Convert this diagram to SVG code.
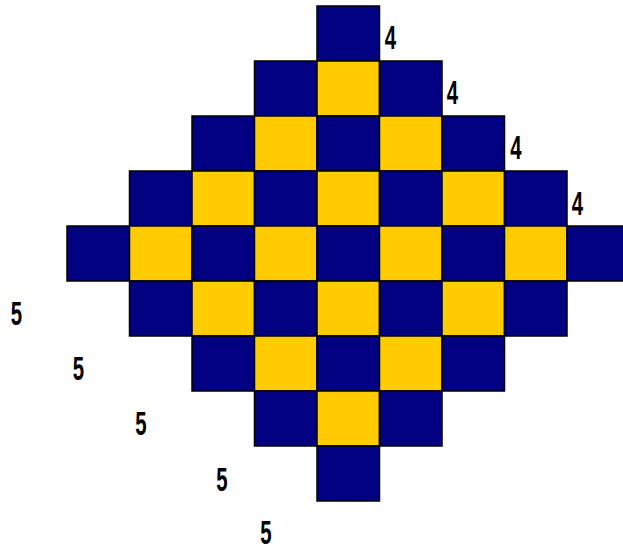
<svg xmlns="http://www.w3.org/2000/svg" width="623" height="546" viewBox="0 0 623 546">
<style>
.n{fill:#000080;stroke:#000;stroke-width:1.5}
.y{fill:#FFCC00;stroke:#000;stroke-width:1.5}
.t{font-family:"Liberation Sans",Arial,sans-serif;font-weight:bold;font-size:34px;fill:#000;text-anchor:middle}
</style>
<rect width="623" height="546" fill="#fff"/>
<g id="grid">
<rect class="n" x="317" y="6" width="62.5" height="55"/>
<rect class="n" x="254.5" y="61" width="62.5" height="55"/>
<rect class="y" x="317" y="61" width="62.5" height="55"/>
<rect class="n" x="379.5" y="61" width="62.5" height="55"/>
<rect class="n" x="192" y="116" width="62.5" height="55"/>
<rect class="y" x="254.5" y="116" width="62.5" height="55"/>
<rect class="n" x="317" y="116" width="62.5" height="55"/>
<rect class="y" x="379.5" y="116" width="62.5" height="55"/>
<rect class="n" x="442" y="116" width="62.5" height="55"/>
<rect class="n" x="129.5" y="171" width="62.5" height="55"/>
<rect class="y" x="192" y="171" width="62.5" height="55"/>
<rect class="n" x="254.5" y="171" width="62.5" height="55"/>
<rect class="y" x="317" y="171" width="62.5" height="55"/>
<rect class="n" x="379.5" y="171" width="62.5" height="55"/>
<rect class="y" x="442" y="171" width="62.5" height="55"/>
<rect class="n" x="504.5" y="171" width="62.5" height="55"/>
<rect class="n" x="67" y="226" width="62.5" height="55"/>
<rect class="y" x="129.5" y="226" width="62.5" height="55"/>
<rect class="n" x="192" y="226" width="62.5" height="55"/>
<rect class="y" x="254.5" y="226" width="62.5" height="55"/>
<rect class="n" x="317" y="226" width="62.5" height="55"/>
<rect class="y" x="379.5" y="226" width="62.5" height="55"/>
<rect class="n" x="442" y="226" width="62.5" height="55"/>
<rect class="y" x="504.5" y="226" width="62.5" height="55"/>
<rect class="n" x="567" y="226" width="62.5" height="55"/>
<rect class="n" x="129.5" y="281" width="62.5" height="55"/>
<rect class="y" x="192" y="281" width="62.5" height="55"/>
<rect class="n" x="254.5" y="281" width="62.5" height="55"/>
<rect class="y" x="317" y="281" width="62.5" height="55"/>
<rect class="n" x="379.5" y="281" width="62.5" height="55"/>
<rect class="y" x="442" y="281" width="62.5" height="55"/>
<rect class="n" x="504.5" y="281" width="62.5" height="55"/>
<rect class="n" x="192" y="336" width="62.5" height="55"/>
<rect class="y" x="254.5" y="336" width="62.5" height="55"/>
<rect class="n" x="317" y="336" width="62.5" height="55"/>
<rect class="y" x="379.5" y="336" width="62.5" height="55"/>
<rect class="n" x="442" y="336" width="62.5" height="55"/>
<rect class="n" x="254.5" y="391" width="62.5" height="55"/>
<rect class="y" x="317" y="391" width="62.5" height="55"/>
<rect class="n" x="379.5" y="391" width="62.5" height="55"/>
<rect class="n" x="317" y="446" width="62.5" height="55"/>
</g>
<g id="labels">
<text class="t" transform="translate(390.5,49) scale(0.6,1)">4</text>
<text class="t" transform="translate(452.5,104) scale(0.6,1)">4</text>
<text class="t" transform="translate(516,159) scale(0.6,1)">4</text>
<text class="t" transform="translate(577.5,215) scale(0.6,1)">4</text>
<text class="t" transform="translate(16.5,325) scale(0.6,1)">5</text>
<text class="t" transform="translate(78.5,380) scale(0.6,1)">5</text>
<text class="t" transform="translate(141,435) scale(0.6,1)">5</text>
<text class="t" transform="translate(222,491) scale(0.6,1)">5</text>
<text class="t" transform="translate(266,544) scale(0.6,1)">5</text>
</g>
</svg>
